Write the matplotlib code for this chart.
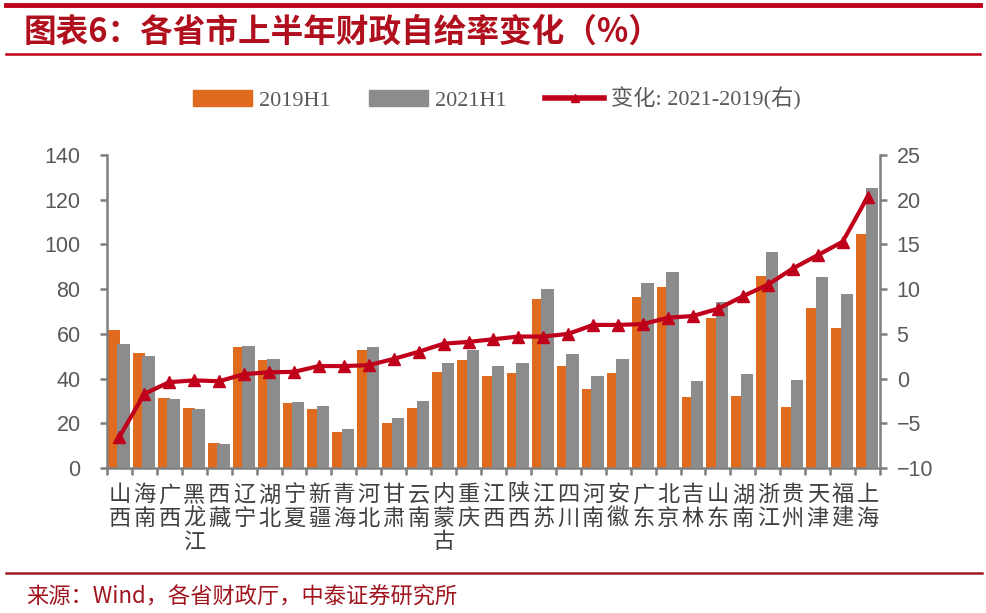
import matplotlib
matplotlib.use('Agg')
import matplotlib.pyplot as plt
from matplotlib.lines import Line2D
from matplotlib.patches import Patch
import numpy as np

plt.rcParams['font.family'] = ['Liberation Sans', 'Noto Sans CJK SC', 'DejaVu Sans']

provinces = ['山西', '海南', '广西', '黑龙江', '西藏', '辽宁', '湖北', '宁夏', '新疆', '青海',
             '河北', '甘肃', '云南', '内蒙古', '重庆', '江西', '陕西', '江苏', '四川', '河南',
             '安徽', '广东', '北京', '吉林', '山东', '湖南', '浙江', '贵州', '天津', '福建', '上海']
ratio_2019h1 = [61.6, 51.6, 31.5, 26.7, 11.0, 54.1, 48.1, 28.9, 26.4, 16.1,
                52.6, 20.3, 27.0, 43.0, 48.4, 41.0, 42.4, 75.4, 45.6, 35.2,
                42.4, 76.3, 81.1, 31.6, 66.9, 32.3, 85.9, 27.1, 71.7, 62.6, 104.6]
ratio_2021h1 = [55.3, 50.1, 31.0, 26.4, 10.6, 54.7, 48.8, 29.7, 27.7, 17.6,
                54.3, 22.5, 30.1, 47.1, 52.6, 45.4, 47.0, 80.0, 50.8, 41.1,
                48.6, 82.6, 87.8, 38.9, 74.4, 41.9, 96.5, 39.4, 85.6, 78.0, 125.1]
change = [-6.5, -1.7, -0.4, -0.2, -0.3, 0.5, 0.7, 0.75, 1.4, 1.4,
          1.5, 2.2, 3.0, 3.9, 4.1, 4.4, 4.7, 4.7, 5.0, 6.0,
          6.0, 6.1, 6.8, 7.0, 7.8, 9.2, 10.5, 12.3, 13.8, 15.3, 20.3]

ORANGE = '#E06A1E'
GRAY = '#8C8C8C'
RED = '#C0001A'
AXIS = '#7F7F7F'
TXT = '#595959'
TITLE_RED = '#B0101E'

fig = plt.figure(figsize=(9.86, 6.13), dpi=100)
ax = fig.add_axes([107 / 986, 1 - 468 / 613, (880 - 107) / 986, (468 - 155) / 613])

x = np.arange(len(provinces))
ax.bar(x - 0.46, ratio_2019h1, width=0.5, align='edge', color=ORANGE, zorder=2)
ax.bar(x - 0.08, ratio_2021h1, width=0.5, align='edge', color=GRAY, zorder=3)
ax.set_xlim(-0.5, len(provinces) - 0.5)
ax.set_ylim(0, 140)
ax.set_yticks(np.arange(0, 141, 20))

ax2 = ax.twinx()
ax2.plot(x, change, color=RED, linewidth=3, marker='^', markersize=8, zorder=5)
ax2.set_ylim(-10, 25)
ax2.set_yticks(np.arange(-10, 26, 5))

for a in (ax, ax2):
    a.spines['top'].set_visible(False)
    for s in ('left', 'right', 'bottom'):
        a.spines[s].set_color(AXIS)
        a.spines[s].set_linewidth(1.8)
    a.tick_params(axis='y', colors=AXIS, labelcolor=TXT, labelsize=15.5,
                  length=5, width=1.8)
ax.tick_params(axis='y', pad=14)
ax2.tick_params(axis='y', pad=7)
ax.spines['right'].set_visible(False)
ax2.spines['left'].set_visible(False)
ax2.spines['bottom'].set_visible(False)

ax.set_xticks(x)
ax.set_xticklabels(['\n'.join(p) for p in provinces], family='Noto Sans CJK SC',
                   fontsize=16, color='#404040', linespacing=1.03, va='top')
ax.tick_params(axis='x', length=0, pad=11)
ax.set_xticks(np.arange(-0.5, len(provinces)), minor=True)
ax.tick_params(axis='x', which='minor', length=5, width=1.8, color=AXIS)

# legend
handles = [Patch(color=ORANGE), Patch(color=GRAY),
           Line2D([], [], color=RED, linewidth=4, marker='^', markersize=6)]
labels = ['2019H1', '2021H1', '变化: 2021-2019(右)']
fig.legend(handles, labels, loc='center', bbox_to_anchor=(0.504, 1 - 99 / 613), ncol=3,
           frameon=False, handlelength=2.65, handleheight=0.75, columnspacing=1.75,
           handletextpad=0.3,
           prop={'family': ['Liberation Serif', 'Noto Sans CJK SC'], 'size': 16},
           labelcolor=TXT)

# title block
fig.add_artist(Line2D([6 / 986, 980 / 986], [1 - 5 / 613] * 2, color=RED, linewidth=3.5))
fig.add_artist(Line2D([6 / 986, 980 / 986], [1 - 54 / 613] * 2, color=RED, linewidth=1.8))
fig.text(24 / 986, 1 - 32 / 613, '图表6：各省市上半年财政自给率变化（%）', color=TITLE_RED,
         fontsize=23.5, fontweight='bold', style='italic', va='center', ha='left',
         family=['Noto Sans CJK SC', 'DejaVu Sans'])

# source
fig.add_artist(Line2D([6 / 986, 982 / 986], [1 - 573 / 613] * 2, color='#9E1B26', linewidth=1.8))
fig.text(26 / 986, 1 - 597 / 613, '来源：Wind，各省财政厅，中泰证券研究所', color='#A0141E',
         fontsize=16, va='center', ha='left', family=['Noto Sans CJK SC', 'DejaVu Sans'])

fig.savefig('out.png', dpi=100)
